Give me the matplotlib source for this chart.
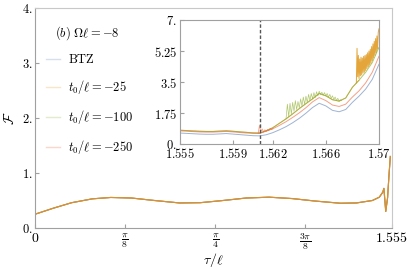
import numpy as np
import matplotlib
matplotlib.use("Agg")
import matplotlib.pyplot as plt
from matplotlib.lines import Line2D

plt.rcParams['mathtext.fontset'] = 'cm'
plt.rcParams['font.family'] = 'DejaVu Serif'

# main panel: F vs tau/l
tau_main = [0.00, 0.08, 0.16, 0.25, 0.33, 0.42, 0.52, 0.63, 0.72, 0.82, 0.92, 1.02,
            1.12, 1.22, 1.33, 1.40, 1.47, 1.50, 1.515, 1.520, 1.528, 1.536, 1.542, 1.548]
F_main = [0.25, 0.36, 0.46, 0.53, 0.555, 0.545, 0.50, 0.455, 0.46, 0.50, 0.545, 0.56,
          0.535, 0.49, 0.45, 0.455, 0.50, 0.56, 0.65, 0.72, 0.30, 0.55, 0.95, 1.30]

# inset: coarse grid
tau_in = [1.5550, 1.5555, 1.5560, 1.5565, 1.5570, 1.5575, 1.5580, 1.5585, 1.5590, 1.5595,
          1.5600, 1.5605, 1.5610, 1.5615, 1.5620, 1.5625, 1.5630, 1.5635, 1.5640, 1.5645,
          1.5650, 1.5655, 1.5660, 1.5665, 1.5670, 1.5675, 1.5680, 1.5685, 1.5690, 1.5695,
          1.5700]
btz = [0.62, 0.60, 0.58, 0.56, 0.55, 0.55, 0.57, 0.59, 0.56, 0.53,
       0.50, 0.47, 0.46, 0.52, 0.64, 0.80, 0.98, 1.20, 1.45, 1.74,
       2.06, 2.30, 2.15, 1.90, 1.82, 1.95, 2.35, 2.70, 3.10, 3.65,
       4.50]
t250 = [0.74, 0.72, 0.70, 0.68, 0.67, 0.67, 0.69, 0.71, 0.68, 0.65,
        0.62, 0.60, 0.60, 0.72, 0.86, 1.05, 1.26, 1.50, 1.76, 2.05,
        2.38, 2.62, 2.45, 2.20, 2.12, 2.25, 2.65, 3.00, 3.45, 4.05,
        4.95]
t100 = [0.78, 0.76, 0.74, 0.72, 0.71, 0.71, 0.73, 0.75, 0.72, 0.69,
        0.66, 0.63, 0.62, 0.74, 0.92, 1.17, 1.42, 1.70, 2.00, 2.28,
        2.55, 2.85, 2.72, 2.50, 2.42, 2.60, 3.20, 3.60, 4.05, 4.60,
        5.45]
t25 = t100[:28]
tau25 = tau_in[:28]

# noisy stretches
g_noise = [1.42, 2.25, 1.55, 2.30, 1.70, 2.35, 1.85, 2.45, 1.95, 2.40,
           2.05, 2.55, 2.15, 2.65, 2.25, 2.70, 2.35, 2.80, 2.45, 2.85,
           2.55, 2.90, 2.62, 2.95, 2.72, 2.98, 2.80, 2.92, 2.76, 2.90,
           2.72, 2.85, 2.65, 2.80, 2.58, 2.72, 2.52, 2.65, 2.46, 2.58,
           2.42, 2.50, 2.45]
o_noise = [3.45, 5.40, 3.80, 5.00, 3.70, 4.80, 3.85, 4.90, 3.90, 4.85,
           4.00, 4.95, 4.05, 5.00, 4.15, 5.05, 4.25, 5.15, 4.35, 5.25,
           4.45, 5.35, 4.55, 5.50, 4.70, 5.65, 4.85, 5.80, 5.00, 5.95,
           5.15, 6.10, 5.35, 6.30, 6.50]
r_noise = [0.60, 1.05, 0.70, 0.85, 0.68, 0.80, 0.72, 0.82, 0.76, 0.88, 0.82, 0.86]
tau_g = np.linspace(1.5630, 1.5672, len(g_noise))
tau_o = np.linspace(1.5683, 1.5700, len(o_noise))
tau_r = np.linspace(1.5609, 1.5620, len(r_noise))

blue, orange, green, red = '#5E81B5', '#E19C24', '#8FB032', '#EB6235'
frame = '#a0a0a0'

fig = plt.figure(figsize=(4.07, 2.71), dpi=100)
ax = fig.add_axes([0.086, 0.1587, 0.877, 0.812])
for col in [blue, green, red, orange]:
    ax.plot(tau_main, F_main, color=col, lw=0.8, alpha=0.7)
ax.set_xlim(0, 1.555)
ax.set_ylim(0, 4)
ax.set_xticks([0, np.pi/8, np.pi/4, 3*np.pi/8, 1.555])
ax.set_xticklabels([r'$0$', r'$\frac{\pi}{8}$', r'$\frac{\pi}{4}$', r'$\frac{3\pi}{8}$', r'$1.555$'])
ax.set_yticks([0, 1, 2, 3, 4])
ax.set_yticklabels([r'$0.$', r'$1.$', r'$2.$', r'$3.$', r'$4.$'])
ax.tick_params(direction='in', length=3, color=frame, labelsize=9, pad=2)
ax.tick_params(axis='x', labelsize=10)
for s in ax.spines.values():
    s.set_color('#c8c8c8')
ax.spines['left'].set_color(frame)
ax.spines['bottom'].set_color(frame)
ax.set_xlabel(r'$\tau/\ell$', fontsize=10)
ax.xaxis.set_label_coords(0.5, -0.105)
ax.set_ylabel(r'$\mathcal{F}$', fontsize=10)
ax.yaxis.set_label_coords(-0.05, 0.5)

ax.text(0.056, 0.886, r'$(b)\ \Omega\ell=-8$', transform=ax.transAxes, fontsize=9, va='center')
handles = [Line2D([], [], color=c, lw=1, alpha=0.25) for c in [blue, orange, green, red]]
labels = [r'$\mathrm{BTZ}$', r'$t_0/\ell=-25$', r'$t_0/\ell=-100$', r'$t_0/\ell=-250$']
ax.legend(handles, labels, loc='upper left', bbox_to_anchor=(0.0, 0.845), frameon=False,
          fontsize=9, handlelength=1.1, handletextpad=0.6, labelspacing=0.95)

ins = fig.add_axes([0.442, 0.4686, 0.489, 0.4576])
ins.plot(tau_in, btz, color=blue, lw=0.7, alpha=0.6)
ins.plot(tau25, t25, color=orange, lw=0.7, alpha=0.7)
ins.plot(tau_o, o_noise, color=orange, lw=0.7, alpha=0.9)
ins.plot(tau_in, t100, color=green, lw=0.7, alpha=0.7)
ins.plot(tau_g, g_noise, color=green, lw=0.5, alpha=0.7)
ins.plot(tau_in, t250, color=red, lw=0.7, alpha=0.6)
ins.plot(tau_r, r_noise, color=red, lw=0.6, alpha=0.6)
ins.axvline(1.561, color='#555555', ls=(0, (2.5, 1.5)), lw=1.0)
ins.set_xlim(1.555, 1.570)
ins.set_ylim(0, 7)
ins.set_xticks([1.555, 1.559, 1.562, 1.566, 1.570])
ins.set_xticklabels([r'$1.555$', r'$1.559$', r'$1.562$', r'$1.566$', r'$1.57$'])
ins.set_yticks([0, 1.75, 3.5, 5.25, 7])
ins.set_yticklabels([r'$0.$', r'$1.75$', r'$3.5$', r'$5.25$', r'$7.$'])
ins.tick_params(direction='in', length=3, color=frame, labelsize=9, pad=2)
for s in ins.spines.values():
    s.set_color(frame)

fig.savefig('out.png', dpi=100)
